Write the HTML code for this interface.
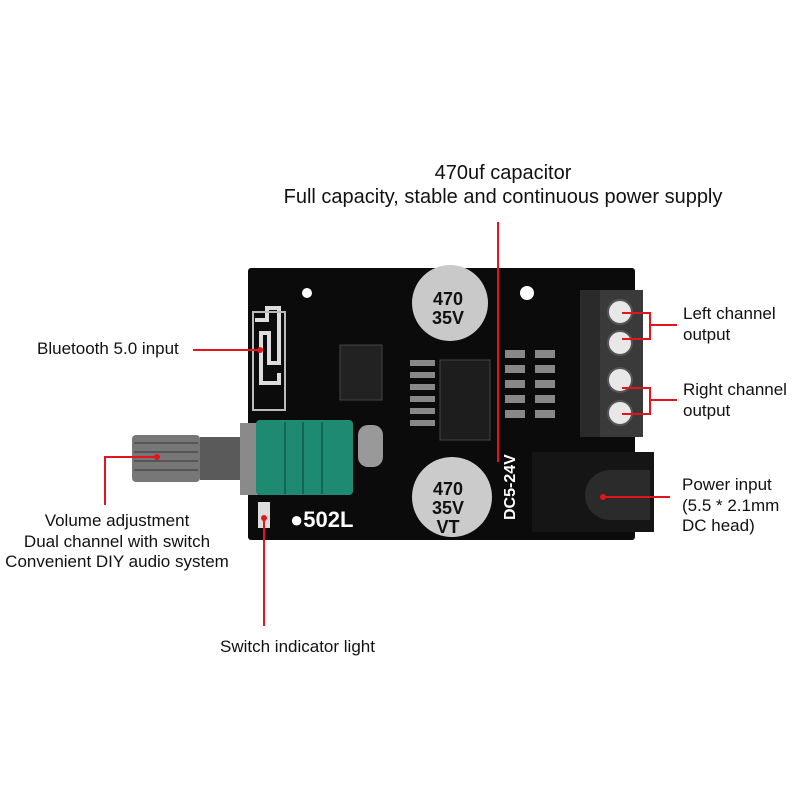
<!DOCTYPE html>
<html><head><meta charset="utf-8"><style>
body{margin:0;background:#fff}
svg{display:block}
text{font-family:"Liberation Sans",sans-serif;fill:#111}
</style></head><body>
<svg width="800" height="800" viewBox="0 0 800 800">
<rect width="800" height="800" fill="#fff"/>
<!-- board -->
<rect x="248" y="268" width="387" height="272" rx="3" fill="#0b0b0b"/>
<!-- bluetooth antenna -->
<path d="M255 320 h12 v-12 h12 v55 h-10 v-30 h-8 v50 h18 v-10" fill="none" stroke="#ddd" stroke-width="4"/>
<rect x="253" y="312" width="32" height="98" fill="none" stroke="#bbb" stroke-width="2"/>
<!-- chips -->
<rect x="340" y="345" width="42" height="55" fill="#222" stroke="#444"/>
<rect x="440" y="360" width="50" height="80" fill="#1d1d1d" stroke="#444"/>
<g fill="#888">
<rect x="410" y="360" width="25" height="6"/><rect x="410" y="372" width="25" height="6"/><rect x="410" y="384" width="25" height="6"/><rect x="410" y="396" width="25" height="6"/><rect x="410" y="408" width="25" height="6"/><rect x="410" y="420" width="25" height="6"/>
<rect x="505" y="350" width="20" height="8"/><rect x="505" y="365" width="20" height="8"/><rect x="505" y="380" width="20" height="8"/><rect x="505" y="395" width="20" height="8"/><rect x="505" y="410" width="20" height="8"/><rect x="535" y="350" width="20" height="8"/><rect x="535" y="365" width="20" height="8"/><rect x="535" y="380" width="20" height="8"/><rect x="535" y="395" width="20" height="8"/><rect x="535" y="410" width="20" height="8"/>
</g>
<rect x="358" y="425" width="25" height="42" rx="10" fill="#999"/>
<circle cx="307" cy="293" r="5" fill="#fff"/><circle cx="527" cy="293" r="7" fill="#fff"/>
<!-- capacitors -->
<circle cx="450" cy="303" r="38" fill="#c9c9c9"/>
<text x="448" y="305" font-size="18" font-weight="bold" text-anchor="middle" style="fill:#111">470</text>
<text x="448" y="324" font-size="18" font-weight="bold" text-anchor="middle" style="fill:#111">35V</text>
<circle cx="452" cy="497" r="40" fill="#cbcbcb"/>
<text x="448" y="495" font-size="18" font-weight="bold" text-anchor="middle" style="fill:#111">470</text>
<text x="448" y="514" font-size="18" font-weight="bold" text-anchor="middle" style="fill:#111">35V</text>
<text x="448" y="533" font-size="18" font-weight="bold" text-anchor="middle" style="fill:#111">VT</text>
<text x="290" y="527" font-size="22" font-weight="bold" style="fill:#fff">●502L</text>
<text transform="translate(515,520) rotate(-90)" font-size="16" font-weight="bold" style="fill:#fff">DC5-24V</text>
<!-- terminal block -->
<rect x="580" y="290" width="63" height="147" fill="#2a2a2a"/>
<rect x="600" y="290" width="43" height="147" fill="#3a3a3a"/>
<g fill="#e8e8e8" stroke="#555" stroke-width="2">
<circle cx="620" cy="312" r="12"/><circle cx="620" cy="343" r="12"/><circle cx="620" cy="380" r="12"/><circle cx="620" cy="413" r="12"/>
</g>
<!-- DC jack -->
<rect x="532" y="452" width="122" height="80" fill="#151515"/>
<path d="M650 470 h-40 a25 25 0 0 0 0 50 h40 z" fill="#2b2b2b"/>
<!-- pot -->
<rect x="132" y="435" width="68" height="47" rx="4" fill="#777"/>
<g stroke="#555" stroke-width="2"><line x1="134" y1="443" x2="198" y2="443"/><line x1="134" y1="452" x2="198" y2="452"/><line x1="134" y1="461" x2="198" y2="461"/><line x1="134" y1="470" x2="198" y2="470"/></g>
<rect x="200" y="437" width="42" height="43" fill="#5a5a5a"/>
<rect x="240" y="423" width="18" height="72" fill="#8a8a8a"/>
<rect x="256" y="420" width="97" height="75" rx="4" fill="#1f8a72"/>
<g stroke="#136652" stroke-width="2"><line x1="285" y1="422" x2="285" y2="494"/><line x1="303" y1="422" x2="303" y2="494"/><line x1="322" y1="422" x2="322" y2="494"/></g>
<rect x="258" y="502" width="12" height="26" fill="#ddd"/>
<!-- red lines -->
<g stroke="#e2141c" stroke-width="2" fill="none">
<line x1="498" y1="222" x2="498" y2="462"/>
<line x1="193" y1="350" x2="260" y2="350"/>
<polyline points="105,505 105,457 157,457"/>
<line x1="264" y1="518" x2="264" y2="626"/>
<polyline points="622,313 650,313 650,339 622,339"/>
<line x1="650" y1="325" x2="677" y2="325"/>
<polyline points="622,388 650,388 650,414 622,414"/>
<line x1="650" y1="400" x2="677" y2="400"/>
<line x1="603" y1="497" x2="670" y2="497"/>
</g>
<g fill="#e2141c"><circle cx="157" cy="457" r="3"/><circle cx="264" cy="518" r="3"/><circle cx="603" cy="497" r="3"/><circle cx="260" cy="350" r="3"/></g>
<!-- labels -->
<text x="503" y="179" font-size="20" text-anchor="middle">470uf capacitor</text>
<text x="503" y="203" font-size="20" text-anchor="middle">Full capacity, stable and continuous power supply</text>
<text x="37" y="354" font-size="17">Bluetooth 5.0 input</text>
<text x="117" y="526" font-size="17" text-anchor="middle">Volume adjustment</text>
<text x="117" y="547" font-size="17" text-anchor="middle">Dual channel with switch</text>
<text x="117" y="567" font-size="17" text-anchor="middle">Convenient DIY audio system</text>
<text x="220" y="652" font-size="17">Switch indicator light</text>
<text x="683" y="319" font-size="17">Left channel</text>
<text x="683" y="340" font-size="17">output</text>
<text x="683" y="395" font-size="17">Right channel</text>
<text x="683" y="416" font-size="17">output</text>
<text x="682" y="490" font-size="17">Power input</text>
<text x="682" y="511" font-size="17">(5.5 * 2.1mm</text>
<text x="682" y="531" font-size="17">DC head)</text>
</svg>
</body></html>
